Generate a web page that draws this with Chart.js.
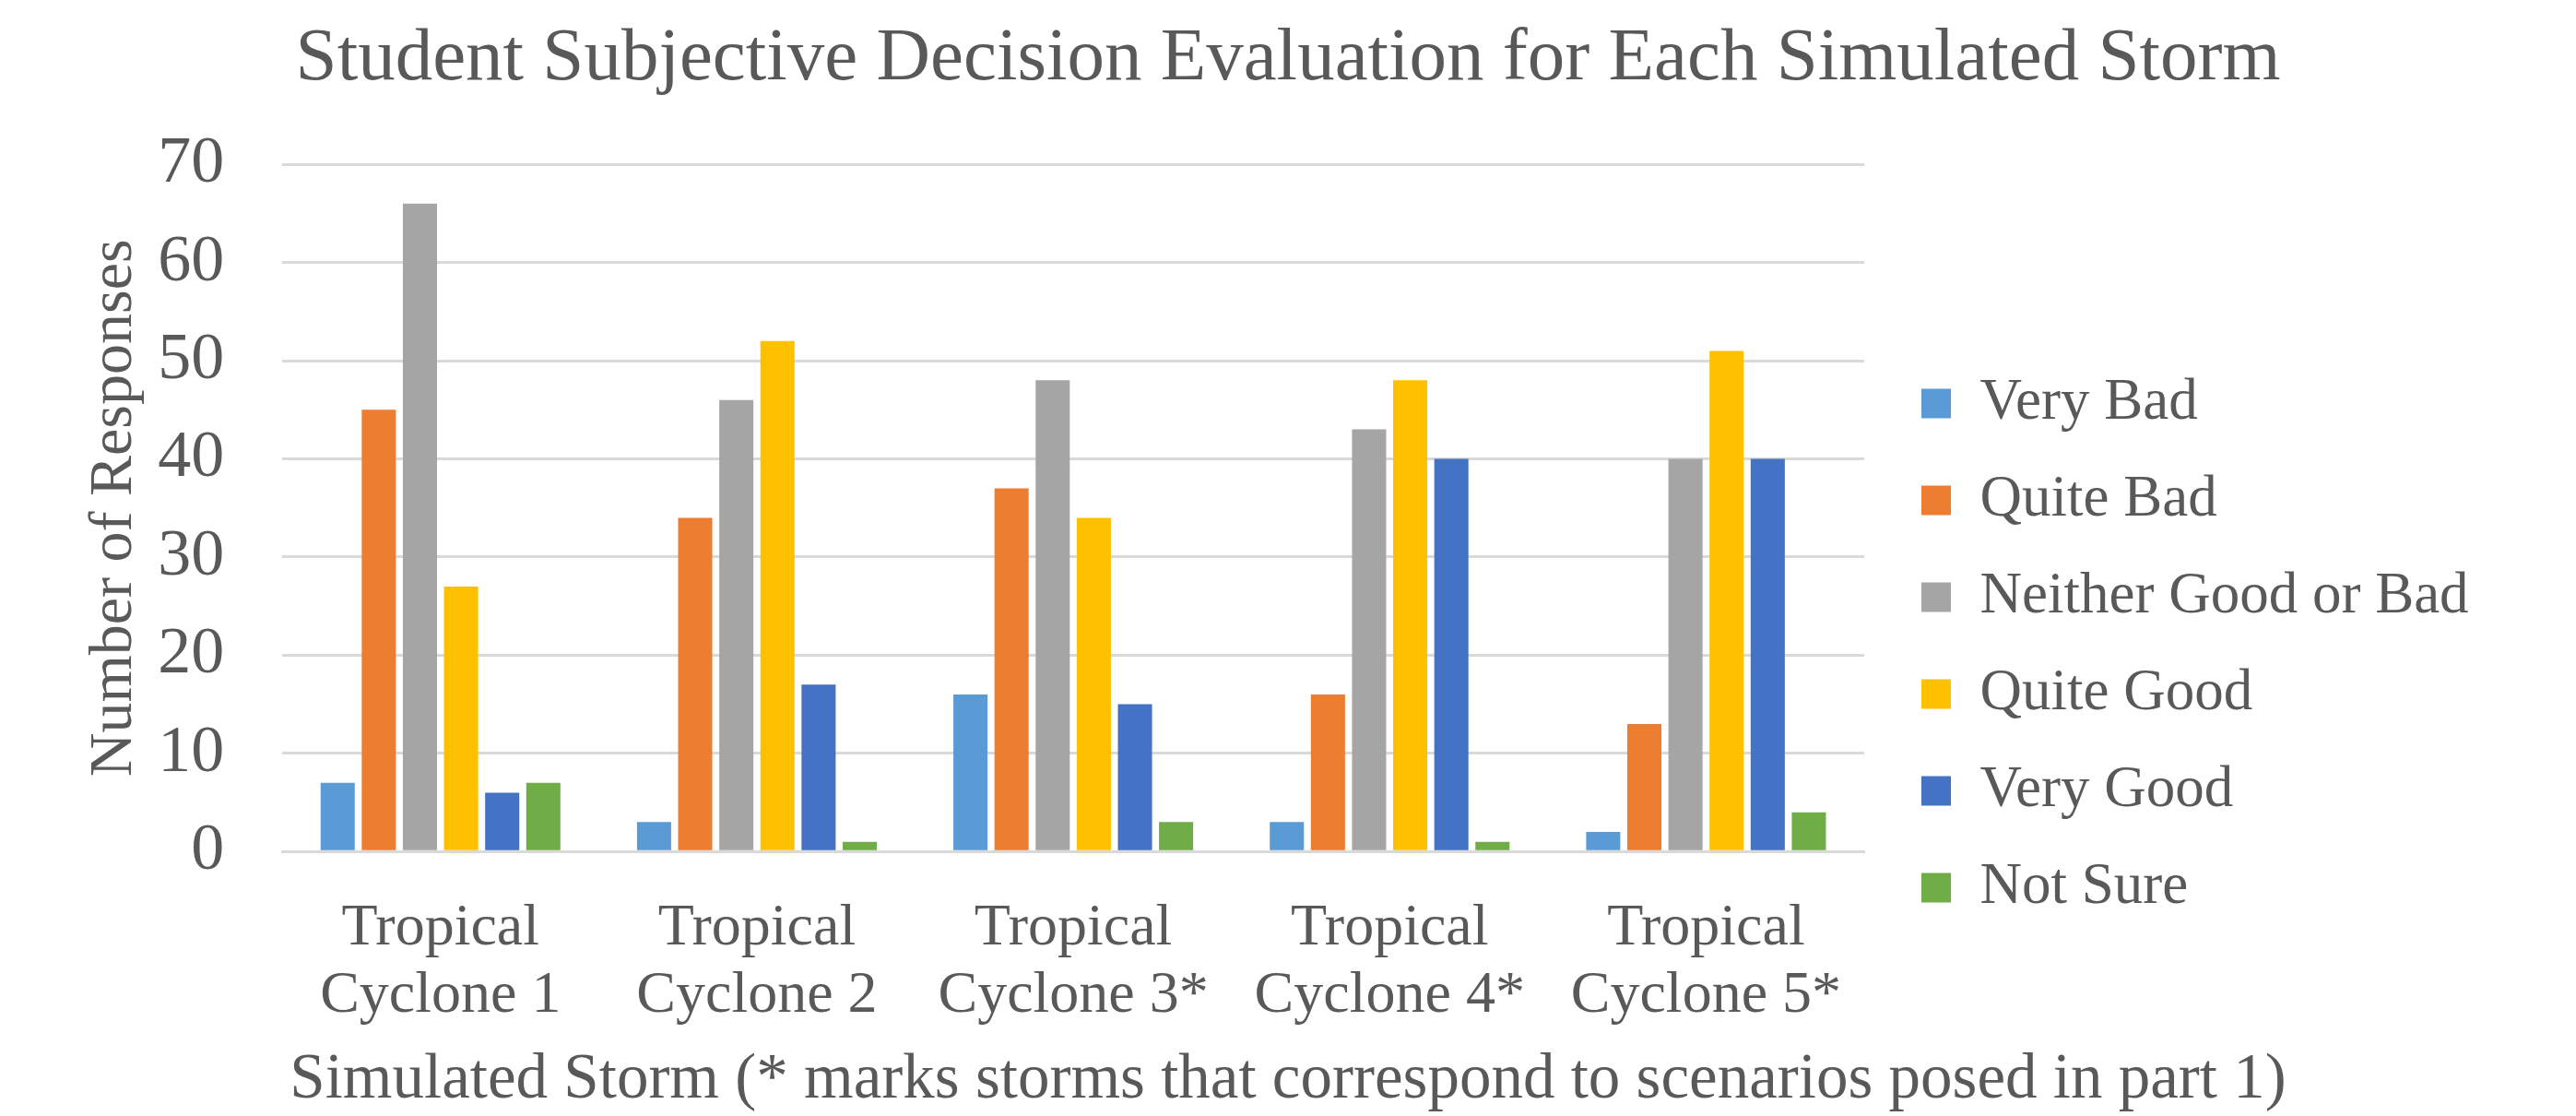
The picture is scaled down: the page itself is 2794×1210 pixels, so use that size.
<!DOCTYPE html>
<html>
<head>
<meta charset="utf-8">
<script src="https://cdn.jsdelivr.net/npm/chart.js@4.4.1/dist/chart.umd.min.js"></script>
<style>
  html, body { margin: 0; padding: 0; background: #ffffff; }
  #wrap { width: 2794px; height: 1210px; }
</style>
</head>
<body>
<div id="wrap"><canvas id="myChart" width="2794" height="1210"></canvas></div>
<script>
// storms on the x axis (two-line labels)
const storms = [
    ['Tropical', 'Cyclone 1'],
    ['Tropical', 'Cyclone 2'],
    ['Tropical', 'Cyclone 3*'],
    ['Tropical', 'Cyclone 4*'],
    ['Tropical', 'Cyclone 5*']
];

// number of responses per rating
const veryBad = [7, 3, 16, 3, 2];
const quiteBad = [45, 34, 37, 16, 13];
const neitherGoodOrBad = [66, 46, 48, 43, 40];
const quiteGood = [27, 52, 34, 48, 51];
const veryGood = [6, 17, 15, 40, 40];
const notSure = [7, 1, 3, 1, 4];

const yTicks = [0, 10, 20, 30, 40, 50, 60, 70];

const textColor = '#595959';
const serif = "'Liberation Serif', 'Times New Roman', serif";

// Excel-style legend: wide column on the right, sitting lower than centred
const legendPlacement = {
    id: 'legendPlacement',
    beforeLayout(chart) {
        const lg = chart.legend;
        if (!lg || lg._widened) return;
        const fit = lg.fit;
        lg.fit = function () {
            fit.call(this);
            this.width = 772;
        };
        lg._widened = true;
    },
    afterLayout(chart) {
        const lg = chart.legend;
        if (!lg) return;
        lg.top += 95;
        lg.bottom += 95;
        lg.left += 20;
        lg.right += 20;
    }
};

const ctx = document.getElementById('myChart').getContext('2d');
const myChart = new Chart(ctx, {
    type: 'bar',
    data: {
        labels: storms,
        datasets: [
            { label: 'Very Bad', data: veryBad, backgroundColor: '#5B9BD5' },
            { label: 'Quite Bad', data: quiteBad, backgroundColor: '#ED7D31' },
            { label: 'Neither Good or Bad', data: neitherGoodOrBad, backgroundColor: '#A5A5A5' },
            { label: 'Quite Good', data: quiteGood, backgroundColor: '#FFC000' },
            { label: 'Very Good', data: veryGood, backgroundColor: '#4472C4' },
            { label: 'Not Sure', data: notSure, backgroundColor: '#70AD47' }
        ]
    },
    plugins: [legendPlacement],
    options: {
        responsive: false,
        animation: false,
        categoryPercentage: 0.78,
        barPercentage: 0.83,
        layout: { padding: 0 },
        plugins: {
            title: {
                display: true,
                text: 'Student Subjective Decision Evaluation for Each Simulated Storm',
                color: textColor,
                font: { family: serif, size: 81, weight: 'normal' },
                padding: { top: 16, bottom: 65 }
            },
            subtitle: {
                display: true,
                position: 'bottom',
                text: 'Simulated Storm (* marks storms that correspond to scenarios posed in part 1)',
                color: textColor,
                font: { family: serif, size: 69, weight: 'normal' },
                padding: { top: -33, bottom: -3 }
            },
            legend: {
                position: 'right',
                labels: {
                    color: textColor,
                    font: { family: serif, size: 63 },
                    boxWidth: 32,
                    boxHeight: 32,
                    padding: 42
                }
            },
            tooltip: { enabled: false }
        },
        scales: {
            x: {
                grid: { display: false, drawTicks: false },
                border: { display: true, color: '#d9d9d9', width: 3 },
                ticks: {
                    color: textColor,
                    font: { family: serif, size: 64, lineHeight: 1.14 },
                    padding: 47,
                    maxRotation: 0,
                    autoSkip: false
                }
            },
            y: {
                min: yTicks[0],
                max: yTicks[yTicks.length - 1],
                afterBuildTicks: function (axis) {
                    axis.ticks = yTicks.map(v => ({ value: v }));
                },
                grid: { color: '#d9d9d9', lineWidth: 3, drawTicks: false },
                border: { display: false },
                ticks: {
                    color: textColor,
                    font: { family: serif, size: 72 },
                    padding: 63
                },
                title: {
                    display: true,
                    text: 'Number of Responses',
                    color: textColor,
                    font: { family: serif, size: 66 },
                    padding: { top: 85, bottom: -56 }
                }
            }
        }
    }
});
</script>
</body>
</html>
